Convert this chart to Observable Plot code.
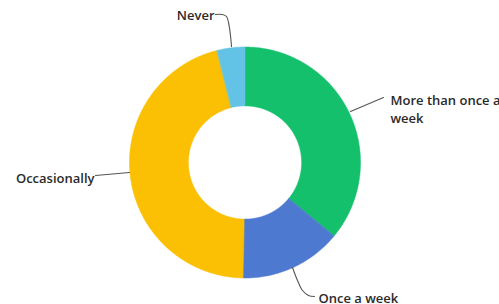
<!DOCTYPE html>
<html>
<head>
<meta charset="utf-8">
<script src="https://cdn.jsdelivr.net/npm/d3@7"></script>
<script src="https://cdn.jsdelivr.net/npm/@observablehq/plot@0.6"></script>
<style>
  html, body { margin: 0; padding: 0; background: #fff; }
  #chart { width: 499px; height: 304px; overflow: hidden; }
  svg { font-family: "Open Sans", sans-serif; }
</style>
</head>
<body>
<div id="chart"></div>
<script>
// Data
const categories = ["More than once a week", "Once a week", "Occasionally", "Never"];
const values = [36, 14.3, 45.8, 3.9];
const colors = ["#14c06c", "#4d79d0", "#fbbf03", "#62c3e6"];

const innerRatio = 0.49;
const total = d3.sum(values);

// Build slice polygons from the data
const slices = [];
let acc = 0;
categories.forEach((c, i) => {
  const a0 = acc / total * 2 * Math.PI;
  acc += values[i];
  const a1 = acc / total * 2 * Math.PI;
  const n = Math.max(8, Math.ceil((a1 - a0) / 0.01));
  const ring = [];
  for (let k = 0; k <= n; k++) {
    const a = a0 + (a1 - a0) * k / n;
    ring.push([Math.sin(a), Math.cos(a)]);
  }
  for (let k = n; k >= 0; k--) {
    const a = a0 + (a1 - a0) * k / n;
    ring.push([innerRatio * Math.sin(a), innerRatio * Math.cos(a)]);
  }
  ring.push(ring[0]);
  slices.push({type: "Feature", properties: {name: c, color: colors[i]}, geometry: {type: "Polygon", coordinates: [ring]}});
});

const R = 115.5, CX = 244.5, CY = 162;
const toU = ([px, py]) => [(px - CX) / R, -(py - CY) / R];

// leader lines (pixel layout guides converted into unit space)
const leaders = [
  [[350, 111], [383, 97]],
  [[292, 267], [297, 280], [302, 290], [308, 295], [314, 296]],
  [[95, 175], [129, 172]],
  [[215, 14], [222, 14], [226, 16], [228, 22], [230, 35], [231, 46]]
].map((pts, i) => pts.map(p => ({x: toU(p)[0], y: toU(p)[1], k: i})));

const labels = [
  {t: "More than once a", p: [390, 100], a: "start"},
  {t: "week", p: [390, 118], a: "start"},
  {t: "Once a week", p: [318, 298], a: "start"},
  {t: "Occasionally", p: [94, 178], a: "end"},
  {t: "Never", p: [214, 15], a: "end"}
].map(d => ({...d, x: toU(d.p)[0], y: toU(d.p)[1]}));

const textStyle = {x: "x", y: "y", text: "t", fill: "#2a2a2a", fontSize: 13, fontWeight: 600};

const chart = Plot.plot({
  width: 499,
  height: 304,
  margin: 0,
  projection: () => d3.geoIdentity().reflectY(true).scale(R).translate([CX, CY]),
  marks: [
    Plot.geo(slices, {fill: d => d.properties.color, stroke: d => d.properties.color, strokeWidth: 0.5}),
    Plot.line(leaders.flat(), {x: "x", y: "y", z: "k", stroke: "#555", strokeWidth: 1.1, curve: "catmull-rom"}),
    Plot.text(labels.filter(d => d.a === "start"), {...textStyle, textAnchor: "start"}),
    Plot.text(labels.filter(d => d.a === "end"), {...textStyle, textAnchor: "end"})
  ]
});
document.getElementById("chart").appendChild(chart);
</script>
</body>
</html>
